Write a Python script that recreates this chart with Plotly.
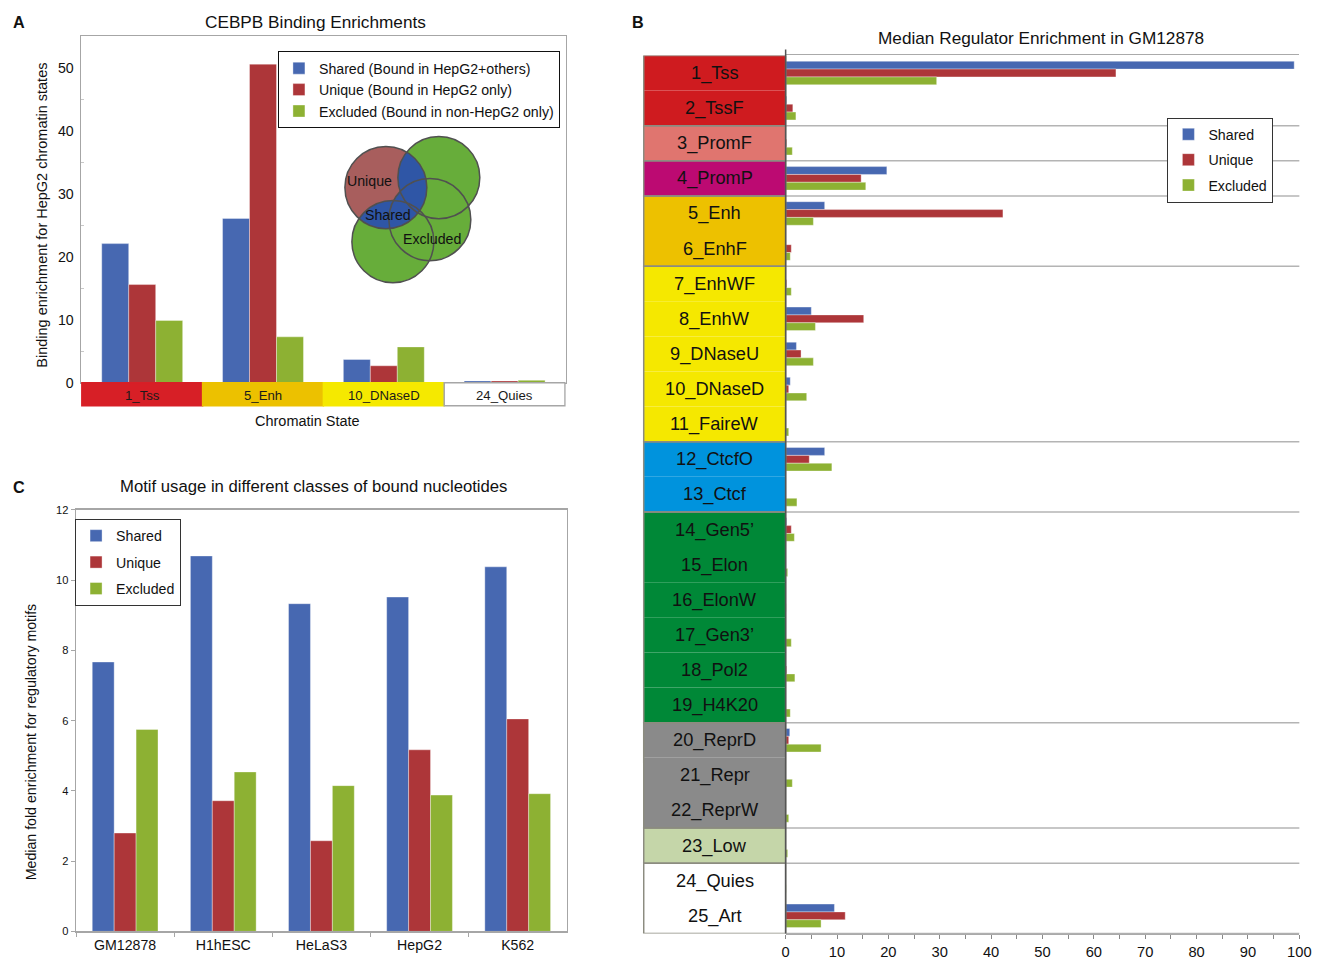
import numpy as np
import plotly.graph_objects as go

W, H = 1324, 962
# calibration of the page-to-picture mapping (picture = S * page + O)
SX, OX = 0.9885, 2.9
SY, OY = 0.9844, 5.6
FF = 1.013  # font compensation for that mapping
FONT = "Liberation Sans, Arial, sans-serif"

# ---------------- data ----------------
A_states = ["1_Tss", "5_Enh", "10_DNaseD", "24_Quies"]
A_state_colors = ["#D71F26", "#ECC100", "#F5E900", "#FFFFFF"]
A_shared = [22.1, 26.1, 3.7, 0.3]
A_unique = [15.6, 50.6, 2.7, 0.3]
A_excluded = [9.9, 7.3, 5.7, 0.4]
A_names = ["Shared (Bound in HepG2+others)", "Unique (Bound in HepG2 only)",
           "Excluded (Bound in non-HepG2 only)"]

B_states = ["1_Tss", "2_TssF", "3_PromF", "4_PromP", "5_Enh", "6_EnhF", "7_EnhWF",
            "8_EnhW", "9_DNaseU", "10_DNaseD", "11_FaireW", "12_CtcfO", "13_Ctcf",
            "14_Gen5’", "15_Elon", "16_ElonW", "17_Gen3’", "18_Pol2", "19_H4K20",
            "20_ReprD", "21_Repr", "22_ReprW", "23_Low", "24_Quies", "25_Art"]
B_state_colors = ["#CF1B1F", "#CF1B1F", "#E0756F", "#BC0A72", "#EDC100", "#EDC100",
                  "#F5E800", "#F5E800", "#F5E800", "#F5E800", "#F5E800", "#0093DD",
                  "#0093DD", "#008837", "#008837", "#008837", "#008837", "#008837",
                  "#008837", "#8A8A8A", "#8A8A8A", "#8A8A8A", "#C5D6A9", "#FFFFFF",
                  "#FFFFFF"]
B_groups = [(0, 1), (2, 2), (3, 3), (4, 5), (6, 10), (11, 12), (13, 18), (19, 21),
            (22, 22), (23, 24)]
B_shared = [99.0, 0.2, 0.0, 19.7, 7.6, 0.0, 0.0, 5.0, 2.1, 0.9, 0.0, 7.6, 0.0,
            0.2, 0.0, 0.0, 0.0, 0.0, 0.0, 0.8, 0.0, 0.0, 0.0, 0.0, 9.5]
B_unique = [64.3, 1.4, 0.2, 14.7, 42.3, 1.1, 0.2, 15.2, 3.0, 0.6, 0.0, 4.6, 0.0,
            1.1, 0.0, 0.0, 0.0, 0.2, 0.0, 0.6, 0.0, 0.0, 0.0, 0.0, 11.6]
B_excluded = [29.4, 2.0, 1.3, 15.6, 5.4, 0.9, 1.1, 5.8, 5.4, 4.1, 0.6, 9.0, 2.2,
              1.7, 0.4, 0.1, 1.1, 1.8, 0.9, 6.9, 1.3, 0.6, 0.4, 0.1, 6.9]
B_names = ["Shared", "Unique", "Excluded"]

C_cells = ["GM12878", "H1hESC", "HeLaS3", "HepG2", "K562"]
C_shared = [7.67, 10.69, 9.33, 9.52, 10.38]
C_unique = [2.80, 3.72, 2.58, 5.17, 6.05]
C_excluded = [5.75, 4.54, 4.15, 3.88, 3.92]
C_names = ["Shared", "Unique", "Excluded"]

COLORS = ["#4768B1", "#AD3639", "#8DB133"]


def px(x):
    return (x - OX) / SX / W


def py(y):
    return 1 - (y - OY) / SY / H


def fs(s):
    return round(s * FF, 2)


fig = go.Figure()
BAR_LINE = dict(width=0.6, color="rgba(255,255,255,0.6)")

# ---------------- panel A bars ----------------
for name, vals, col in zip(A_names, [A_shared, A_unique, A_excluded], COLORS):
    fig.add_trace(go.Bar(x=A_states, y=vals, name=name, marker_color=col,
                         marker_line=BAR_LINE, xaxis="x", yaxis="y", legend="legend"))

# ---------------- panel B bars ----------------
for i, (name, vals, col) in enumerate(zip(B_names, [B_shared, B_unique, B_excluded], COLORS)):
    fig.add_trace(go.Bar(y=B_states, x=vals, name=name, orientation="h", marker_color=col,
                         marker_line=BAR_LINE, xaxis="x2", yaxis="y2", legend="legend2",
                         legendgroup="b%d" % i))

# ---------------- panel C bars ----------------
for i, (name, vals, col) in enumerate(zip(C_names, [C_shared, C_unique, C_excluded], COLORS)):
    fig.add_trace(go.Bar(x=C_cells, y=vals, name=name, marker_color=col,
                         marker_line=BAR_LINE, xaxis="x3", yaxis="y3", legend="legend3",
                         legendgroup="c%d" % i))

shapes = []
annotations = []

# panel A state band
for i, (s, c) in enumerate(zip(A_states, A_state_colors)):
    shapes.append(dict(type="rect", xref="x", yref="paper", x0=i - 0.5, x1=i + 0.5,
                       y0=py(405), y1=py(382), fillcolor=c,
                       line=dict(color="#A6A6A6" if c == "#FFFFFF" else c, width=1.5)))
    annotations.append(dict(text=s, x=s, xref="x", y=py(395), yref="paper",
                            font=dict(size=fs(13), color="#1a1a1a")))

# panel A Venn diagram (decorative)
circ_unique = (385, 187, 41)
circ_green = [(438, 177, 41), (429, 219, 41), (392, 241, 41)]


def circle_shape(c, fill, line):
    cx, cy, r = c
    return dict(type="circle", xref="paper", yref="paper", x0=px(cx - r), x1=px(cx + r),
                y0=py(cy + r), y1=py(cy - r), fillcolor=fill, line=line, layer="above")


def lens_path(c1, c2, n=40):
    x1, y1, r1 = c1
    x2, y2, r2 = c2
    d = np.hypot(x2 - x1, y2 - y1)
    a = (r1 ** 2 - r2 ** 2 + d ** 2) / (2 * d)
    phi = np.arctan2(y2 - y1, x2 - x1)
    alpha = np.arccos(a / r1)
    beta = np.arccos((d - a) / r2)
    t1 = np.linspace(phi - alpha, phi + alpha, n)
    t2 = np.linspace(phi + np.pi - beta, phi + np.pi + beta, n)
    xs = np.concatenate([x1 + r1 * np.cos(t1), x2 + r2 * np.cos(t2)])
    ys = np.concatenate([y1 + r1 * np.sin(t1), y2 + r2 * np.sin(t2)])
    pts = ["%.5f,%.5f" % (px(x), py(y)) for x, y in zip(xs, ys)]
    return "M" + " L".join(pts) + " Z"


shapes.append(circle_shape(circ_unique, "#A85E5D", dict(width=0)))
for g in circ_green:
    shapes.append(circle_shape(g, "#67AD3A", dict(width=0)))
for g in circ_green:
    shapes.append(dict(type="path", xref="paper", yref="paper", path=lens_path(circ_unique, g),
                       fillcolor="#2F56A6", line=dict(width=0), layer="above"))
for c in [circ_unique] + circ_green:
    shapes.append(circle_shape(c, "rgba(0,0,0,0)", dict(color="#505050", width=1.5)))
for txt, x, y in [("Unique", 369, 180), ("Shared", 387, 214), ("Excluded", 431, 238)]:
    annotations.append(dict(text=txt, x=px(x), y=py(y), font=dict(size=fs(14), color="#111")))

# panel B state column
LX0, LX1, BR = 643, 785, 1299
BTOP, BBOT = 55, 932
for i, (s, c) in enumerate(zip(B_states, B_state_colors)):
    shapes.append(dict(type="rect", xref="paper", yref="y2", x0=px(LX0), x1=px(LX1),
                       y0=i - 0.5, y1=i + 0.5, fillcolor=c, line=dict(width=0), layer="below"))
    annotations.append(dict(text=s, x=px(714), y=s, yref="y2",
                            font=dict(size=fs(18), color="#111")))
for a, b in B_groups:
    shapes.append(dict(type="rect", xref="paper", yref="y2", x0=px(LX0), x1=px(LX1),
                       y0=a - 0.5, y1=b + 0.5, fillcolor="rgba(0,0,0,0)",
                       line=dict(color="#8C8C80", width=1.5)))
    shapes.append(dict(type="line", xref="paper", yref="y2", x0=px(LX1), x1=px(BR),
                       y0=b + 0.5, y1=b + 0.5, line=dict(color="#B4B4B4", width=1.5)))
shapes.append(dict(type="line", xref="paper", yref="paper", x0=px(LX1), x1=px(LX1),
                   y0=py(BBOT), y1=py(49), line=dict(color="#555555", width=1.5)))

# titles and labels
annotations += [
    dict(text="CEBPB Binding Enrichments", x=px(315), y=py(22), font=dict(size=fs(17))),
    dict(text="Median Regulator Enrichment in GM12878", x=px(1041), y=py(38),
         font=dict(size=fs(17))),
    dict(text="Motif usage in different classes of bound nucleotides", x=px(313), y=py(486),
         font=dict(size=fs(16.5))),
    dict(text="<b>A</b>", x=px(18), y=py(22), font=dict(size=fs(16))),
    dict(text="<b>B</b>", x=px(637), y=py(22), font=dict(size=fs(16))),
    dict(text="<b>C</b>", x=px(18), y=py(486), font=dict(size=fs(16))),
    dict(text="Binding enrichment for HepG2 chromatin states", x=px(41), y=py(215),
         textangle=-90, font=dict(size=fs(14.3))),
    dict(text="Chromatin State", x=px(307), y=py(420), font=dict(size=fs(14.3))),
    dict(text="Median fold enrichment for regulatory motifs", x=px(30), y=py(741),
         textangle=-90, font=dict(size=fs(14))),
]
for an in annotations:
    an.setdefault("xref", "paper")
    an.setdefault("yref", "paper")
    an.setdefault("showarrow", False)
    an.setdefault("xanchor", "center")
    an.setdefault("yanchor", "middle")

AX = "#A6A6A6"
fig.update_layout(
    width=W, height=H, margin=dict(l=0, r=0, t=0, b=0),
    paper_bgcolor="white", plot_bgcolor="white",
    font=dict(family=FONT, color="#111", size=fs(13)),
    barmode="group", bargap=0.33, bargroupgap=0,
    shapes=shapes, annotations=annotations,
    xaxis=dict(domain=[px(80), px(565)], anchor="y", type="category",
               categoryorder="array", categoryarray=A_states, showticklabels=False,
               ticks="", showline=True, mirror=True, linecolor=AX, linewidth=1.5,
               showgrid=False, zeroline=False),
    yaxis=dict(domain=[py(382), py(36)], anchor="x", range=[0, 55],
               tickvals=[0, 10, 20, 30, 40, 50],
               showline=True, mirror=True, linecolor=AX, linewidth=1.5, ticks="outside",
               ticklen=3, tickcolor="white", tickfont=dict(size=fs(14)), showgrid=False,
               zeroline=False,
               minor=dict(tickvals=[5, 15, 25, 35, 45], ticks="inside", ticklen=3,
                          tickcolor="#C8C8C8")),
    xaxis2=dict(domain=[px(LX1), px(BR)], anchor="y2", range=[0, 100], dtick=10,
                ticks="outside", ticklen=4, tickcolor="#888", tickfont=dict(size=fs(14.5)),
                ticklabeloverflow="allow",
                showline=True, mirror=True, linecolor="#AAAAAA", linewidth=1.5,
                showgrid=False, zeroline=False,
                minor=dict(dtick=5, ticks="outside", ticklen=4, tickcolor="#888")),
    yaxis2=dict(domain=[py(BBOT), py(BTOP)], anchor="x2", type="category",
                categoryorder="array", categoryarray=B_states, range=[24.5, -0.5],
                showticklabels=False, ticks="", showline=False, showgrid=False,
                zeroline=False),
    xaxis3=dict(domain=[px(75), px(566)], anchor="y3", type="category",
                categoryorder="array", categoryarray=C_cells, ticks="outside",
                tickson="boundaries", ticklen=4, tickcolor=AX, tickfont=dict(size=fs(14)),
                showline=True, mirror=True, linecolor=AX, linewidth=1.5, showgrid=False),
    yaxis3=dict(domain=[py(930), py(509)], anchor="x3", range=[0, 12], dtick=2,
                ticks="outside", ticklen=4, tickcolor=AX, tickfont=dict(size=fs(11)),
                showline=True, mirror=True, linecolor=AX, linewidth=1.5, showgrid=False,
                zeroline=False),
    legend=dict(x=px(277), y=py(51), xanchor="left", yanchor="top", bgcolor="white",
                bordercolor="#111", borderwidth=1, font=dict(size=fs(14)),
                traceorder="normal"),
    legend2=dict(x=px(1167), y=py(117), xanchor="left", yanchor="top", bgcolor="white",
                 bordercolor="#333", borderwidth=1, font=dict(size=fs(14)),
                 traceorder="grouped", tracegroupgap=4),
    legend3=dict(x=px(74), y=py(518), xanchor="left", yanchor="top", bgcolor="white",
                 bordercolor="#333", borderwidth=1, font=dict(size=fs(14)),
                 traceorder="grouped", tracegroupgap=5),
)

fig.write_html("out.html", config={"displayModeBar": False, "staticPlot": True},
               post_script="document.body.style.margin='0';")
